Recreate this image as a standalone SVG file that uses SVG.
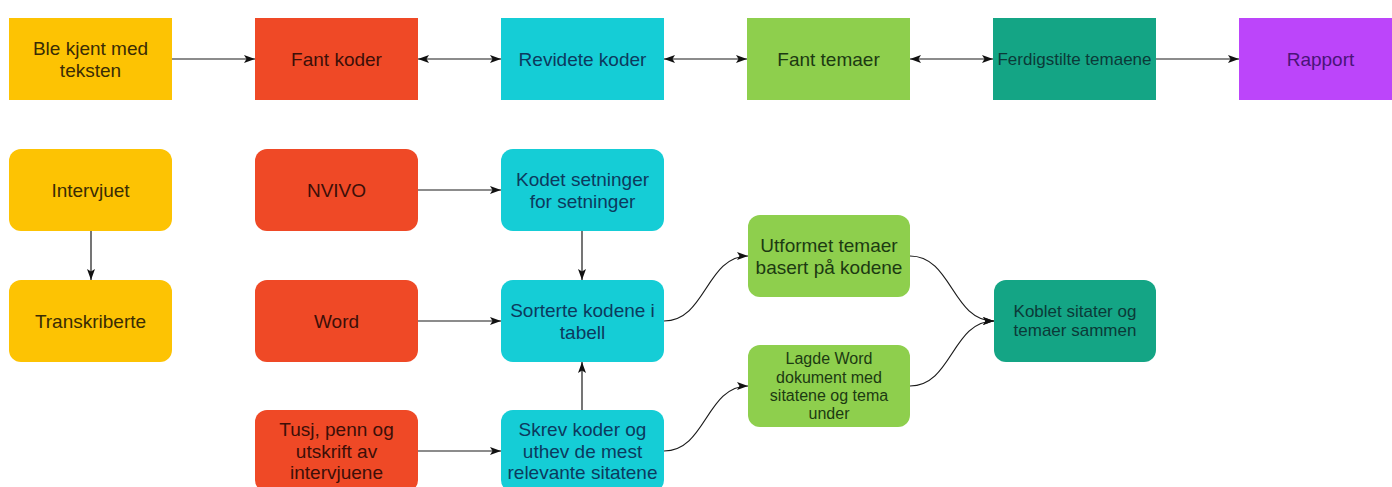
<svg xmlns="http://www.w3.org/2000/svg" width="1392" height="487" viewBox="0 0 1392 487">
<style>
text{font-family:"Liberation Sans",Arial,sans-serif;font-size:19px;text-anchor:middle;dominant-baseline:central}
.y rect{fill:#FDC303}
.y text{fill:#3a2c05}
.r rect{fill:#EF4926}
.r text{fill:#3c0f08}
.c rect{fill:#15CDD6}
.c text{fill:#0c3a5e}
.g rect{fill:#8ECF4D}
.g text{fill:#1c3a12}
.t rect{fill:#14A585}
.t text{fill:#0b3a38}
.p rect{fill:#BC45FA}
.p text{fill:#4a1478}
.s text{font-size:16px}
.m text{font-size:17px}
.e{fill:none;stroke:#1a1a1a;stroke-width:1.2}
</style>
<defs>
<marker id="a" viewBox="0 0 11 8" refX="11" refY="4" markerWidth="11" markerHeight="8" markerUnits="userSpaceOnUse" orient="auto-start-reverse">
<path d="M0,0 L11,4 L0,8 L2.5,4 Z" fill="#111"/>
</marker>
</defs>
<rect width="1392" height="487" fill="#fff"/>
<g id="connectors">
<path class="e" d="M172,59 H255" marker-end="url(#a)"/>
<path class="e" d="M418,59 H501" marker-start="url(#a)" marker-end="url(#a)"/>
<path class="e" d="M664,59 H747" marker-start="url(#a)" marker-end="url(#a)"/>
<path class="e" d="M910,59 H993" marker-start="url(#a)" marker-end="url(#a)"/>
<path class="e" d="M1156,59 H1239" marker-end="url(#a)"/>
<path class="e" d="M91,231 V280" marker-end="url(#a)"/>
<path class="e" d="M418,190 H501" marker-end="url(#a)"/>
<path class="e" d="M418,321 H501" marker-end="url(#a)"/>
<path class="e" d="M418,451 H501" marker-end="url(#a)"/>
<path class="e" d="M582,231 V280" marker-end="url(#a)"/>
<path class="e" d="M582,410 V362" marker-end="url(#a)"/>
<path class="e" d="M664,321 C706,321 706,256 748,256" marker-end="url(#a)"/>
<path class="e" d="M664,451 C706,451 706,386 748,386" marker-end="url(#a)"/>
<path class="e" d="M910,256 C952,256 952,321 994,321" marker-end="url(#a)"/>
<path class="e" d="M910,386 C952,386 952,321 994,321" marker-end="url(#a)"/>
</g>
<g id="n1" class="y"><rect x="9" y="18" width="163" height="82"/><text x="90.5" y="48">Ble kjent med</text><text x="90.5" y="70">teksten</text></g>
<g id="n2" class="r"><rect x="255" y="18" width="163" height="82"/><text x="336.5" y="59">Fant koder</text></g>
<g id="n3" class="c"><rect x="501" y="18" width="163" height="82"/><text x="582.5" y="59">Revidete koder</text></g>
<g id="n4" class="g"><rect x="747" y="18" width="163" height="82"/><text x="828.5" y="59">Fant temaer</text></g>
<g id="n5" class="t m"><rect x="993" y="18" width="163" height="82"/><text x="1074.5" y="59">Ferdigstilte temaene</text></g>
<g id="n6" class="p"><rect x="1239" y="18" width="163" height="82"/><text x="1320.5" y="59">Rapport</text></g>
<g id="n7" class="y"><rect x="9" y="149" width="163" height="82" rx="12"/><text x="90.5" y="190">Intervjuet</text></g>
<g id="n8" class="y"><rect x="9" y="280" width="163" height="82" rx="12"/><text x="90.5" y="321">Transkriberte</text></g>
<g id="n9" class="r"><rect x="255" y="149" width="163" height="82" rx="12"/><text x="336.5" y="190">NVIVO</text></g>
<g id="n10" class="r"><rect x="255" y="280" width="163" height="82" rx="12"/><text x="336.5" y="321">Word</text></g>
<g id="n11" class="r"><rect x="255" y="410" width="163" height="82" rx="12"/><text x="336.5" y="429">Tusj, penn og</text><text x="336.5" y="451">utskrift av</text><text x="336.5" y="472">intervjuene</text></g>
<g id="n12" class="c"><rect x="501" y="149" width="163" height="82" rx="12"/><text x="582.5" y="179">Kodet setninger</text><text x="582.5" y="201">for setninger</text></g>
<g id="n13" class="c"><rect x="501" y="280" width="163" height="82" rx="12"/><text x="582.5" y="310">Sorterte kodene i</text><text x="582.5" y="332">tabell</text></g>
<g id="n14" class="c"><rect x="501" y="410" width="163" height="82" rx="12"/><text x="582.5" y="429">Skrev koder og</text><text x="582.5" y="451">uthev de mest</text><text x="582.5" y="472">relevante sitatene</text></g>
<g id="n15" class="g"><rect x="748" y="215" width="162" height="82" rx="12"/><text x="829" y="245">Utformet temaer</text><text x="829" y="267">basert på kodene</text></g>
<g id="n16" class="g s"><rect x="748" y="345" width="162" height="82" rx="12"/><text x="829" y="358">Lagde Word</text><text x="829" y="377">dokument med</text><text x="829" y="395">sitatene og tema</text><text x="829" y="413">under</text></g>
<g id="n17" class="t m"><rect x="994" y="280" width="162" height="82" rx="12"/><text x="1075" y="311">Koblet sitater og</text><text x="1075" y="330">temaer sammen</text></g>
</svg>
